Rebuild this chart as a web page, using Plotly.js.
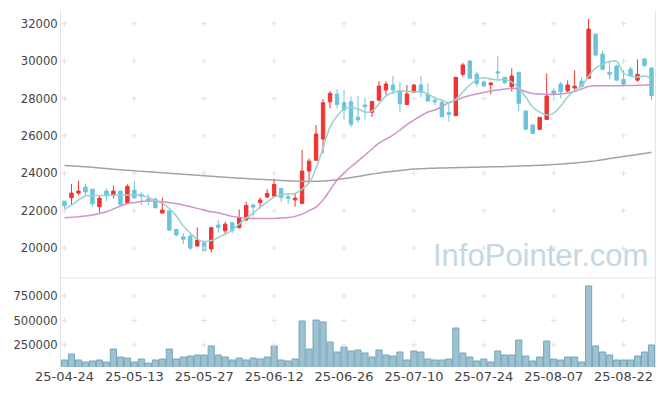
<!DOCTYPE html>
<html><head><meta charset="utf-8">
<script src="https://cdn.plot.ly/plotly-3.0.1.min.js"></script>
<style>html,body{margin:0;padding:0;background:#fff}#chart{width:665px;height:396px}</style>
</head><body><div id="chart"></div>
<script>
const dates = ["25-04-24","25-04-25","25-04-28","25-04-29","25-04-30","25-05-02","25-05-07","25-05-08","25-05-09","25-05-12",
"25-05-13","25-05-14","25-05-15","25-05-16","25-05-19","25-05-20","25-05-21","25-05-22","25-05-23","25-05-26",
"25-05-27","25-05-28","25-05-29","25-05-30","25-06-02","25-06-04","25-06-05","25-06-09","25-06-10","25-06-11",
"25-06-12","25-06-13","25-06-16","25-06-17","25-06-18","25-06-19","25-06-20","25-06-23","25-06-24","25-06-25",
"25-06-26","25-06-27","25-06-30","25-07-01","25-07-02","25-07-03","25-07-04","25-07-07","25-07-08","25-07-09",
"25-07-10","25-07-11","25-07-14","25-07-15","25-07-16","25-07-17","25-07-18","25-07-21","25-07-22","25-07-23",
"25-07-24","25-07-25","25-07-28","25-07-29","25-07-30","25-07-31","25-08-01","25-08-04","25-08-05","25-08-06",
"25-08-07","25-08-08","25-08-11","25-08-12","25-08-13","25-08-14","25-08-18","25-08-19","25-08-20","25-08-21",
"25-08-22","25-08-25","25-08-26","25-08-27","25-08-28"];

const openP = [22510,22690,22940,23260,23150,22210,23050,22830,23050,22400,
23100,22870,22620,22620,21870,21990,21000,20600,20640,20110,
20280,19950,21230,20920,21350,21090,21500,22300,22440,22730,
22780,23190,22750,22570,22390,24120,24700,25830,27820,28240,
27770,27820,27000,27650,27260,27910,28450,28720,28400,27680,
28330,28720,28220,27910,27790,27240,27080,29290,30000,29300,
28880,28730,29430,29130,28630,29400,27330,26580,26350,26880,
28400,28770,28410,28560,28930,29080,31440,30370,29400,29730,
29020,29570,28980,30110,29630];
const highP = [22520,23420,23600,23420,23160,22780,23190,23350,23060,23410,
23600,22980,22870,22700,22690,22000,21020,20790,20730,21110,
20320,21140,21500,21410,21400,22070,22480,22390,22710,23150,
23710,23230,22930,22890,25240,24800,26580,27970,28400,28490,
28450,28110,28130,28060,27870,28930,28930,29210,28890,28720,
28770,29200,28810,28110,27880,27700,29150,29910,30050,29430,
28950,28880,30270,29150,29610,29400,27330,26600,27000,29340,
28540,28890,28970,29500,29140,32250,31480,30550,29960,29800,
29520,29700,30090,30180,29680];
const lowP = [22030,22300,22830,22780,22210,21890,22510,22660,22300,22370,
22620,22300,22300,22120,21870,20910,20640,20210,19900,20070,
19820,19770,20820,20700,20790,21050,21460,21670,22120,22670,
22750,22480,22350,22210,22350,23460,24650,25060,27470,27470,
26880,26460,26700,26880,27020,27840,28180,28220,27290,27650,
28300,28080,27840,27650,27000,26770,27050,29160,29050,28630,
28600,28220,28950,28800,28370,27330,26300,26100,26330,26850,
27860,28010,28330,28450,28600,29050,30270,29500,29020,28950,
28630,29150,28890,29700,27910];
const closeP = [22260,22940,23050,23000,22370,22670,22830,23050,22340,23300,
22690,22770,22570,22160,22030,20960,20700,20470,20000,20430,
19860,21090,21110,21280,20930,21620,22280,22190,22570,22920,
23400,22710,22660,22670,24120,24650,26100,27770,28270,27680,
27380,26620,26860,27560,27840,28660,28770,28450,27720,28240,
28720,28340,27860,27820,27020,27150,29130,29790,29080,28810,
28680,28820,29360,28840,29200,27740,26360,26130,26990,28130,
28250,28360,28720,28660,28630,31710,30320,29560,29300,28980,
28770,29200,29290,29750,28160];

const ma5 = [22086,22300,22567,22781,22808,22808,22808,22834,22834,22834,
22850,22808,22727,22530,22407,22112,21711,21177,20802,20481,
20348,20401,20562,20749,20963,21284,21604,21872,22193,22460,
22727,22834,22888,22915,23155,23476,24278,25348,26471,27059,
27434,27514,27434,27273,27327,27701,28129,28316,28396,28396,
28343,28370,28236,28022,27915,27755,27969,28343,28717,29011,
29108,29038,28985,29011,28878,28557,28075,27541,27273,27113,
27220,27594,28075,28450,28664,29199,29626,29840,29974,30001,
29359,29198,29145,29198,29065];
const ma20 = [21620,21642,21674,21711,21765,21845,21941,22086,22246,22380,
22433,22487,22514,22514,22476,22433,22380,22300,22219,22123,
22032,21941,21888,21792,21695,21642,21604,21588,21588,21588,
21588,21604,21631,21695,21818,22006,22193,22567,23102,23637,
24011,24348,24653,24974,25295,25615,25829,26043,26311,26605,
26845,27075,27273,27380,27567,27781,27915,28049,28156,28236,
28316,28396,28450,28503,28541,28503,28370,28263,28236,28220,
28220,28236,28289,28370,28503,28637,28680,28680,28680,28680,
28690,28690,28701,28717,28733];
const ma120 = [24412,24391,24369,24343,24316,24284,24252,24214,24182,24155,
24129,24102,24081,24054,24027,24000,23974,23947,23920,23893,
23867,23840,23813,23786,23760,23738,23717,23695,23679,23658,
23637,23615,23594,23578,23567,23562,23567,23583,23610,23658,
23717,23770,23824,23893,23958,24011,24064,24107,24145,24187,
24225,24246,24262,24273,24278,24289,24300,24310,24316,24327,
24332,24343,24348,24359,24369,24385,24396,24412,24423,24444,
24466,24492,24519,24551,24583,24626,24663,24722,24786,24840,
24893,24947,25000,25059,25118];
const volume = [96900,158000,97000,76500,86700,97000,76500,209000,127500,117000,
76500,107000,66000,97000,107000,209000,107000,127500,137800,148000,
148000,240000,148000,127500,97000,117000,97000,117000,107000,127500,
240000,97000,86700,107000,495000,209000,505000,485000,280600,178600,
229600,188800,199000,168400,127500,199000,148000,137800,178600,97000,
188800,178600,107000,97000,97000,107000,423500,168400,127500,86700,
107000,76500,188800,148000,148000,301000,137800,86700,127500,290800,
107000,97000,127500,127500,76500,852000,240000,178600,148000,97000,
97000,97000,137800,178600,250000];

const priceTicks = [20000,22000,24000,26000,28000,30000,32000];
const volTicks = [250000,500000,750000];
const dateTickIdx = [0,10,20,30,40,50,60,70,80];
const watermark = "InfoPointer.com";

const tickDates = dateTickIdx.map(i => dates[i]);
const gx = [], gy = [], vx = [], vy = [];
tickDates.forEach(d => { priceTicks.forEach(p => { gx.push(d); gy.push(p); }); volTicks.forEach(v => { vx.push(d); vy.push(v); }); });

const crossMarker = {symbol:'cross-thin', size:4, line:{width:1, color:'#e2e2e2'}, color:'#e2e2e2'};
const traces = [
  {type:'candlestick', x:dates, open:openP, high:highP, low:lowP, close:closeP, xaxis:'x', yaxis:'y',
   increasing:{line:{color:'#ee3434', width:1}, fillcolor:'#ee3434'},
   decreasing:{line:{color:'#6cc3da', width:1}, fillcolor:'#6cc3da'},
   whiskerwidth:0, showlegend:false, hoverinfo:'skip'},
  {type:'scatter', mode:'markers', x:gx, y:gy, marker:crossMarker, hoverinfo:'skip', showlegend:false, xaxis:'x', yaxis:'y'},
  {type:'scatter', mode:'markers', x:vx, y:vy, marker:crossMarker, hoverinfo:'skip', showlegend:false, xaxis:'x', yaxis:'y2'},
  {type:'scatter', mode:'lines', x:dates, y:ma120, line:{color:'#a3a3a3', width:1.5, shape:'spline'}, showlegend:false, hoverinfo:'skip'},
  {type:'scatter', mode:'lines', x:dates, y:ma20, line:{color:'#cf95cb', width:1.5, shape:'spline'}, showlegend:false, hoverinfo:'skip'},
  {type:'scatter', mode:'lines', x:dates, y:ma5, line:{color:'#98d2ca', width:1.5, shape:'spline'}, showlegend:false, hoverinfo:'skip'},
  {type:'bar', x:dates, y:volume, xaxis:'x', yaxis:'y2', marker:{color:'#9cc1d1', line:{color:'#78a6ba', width:1}},
   showlegend:false, hoverinfo:'skip'}
];

const layout = {
  width:665, height:396,
  margin:{l:61, r:10, t:10, b:29},
  paper_bgcolor:'#ffffff', plot_bgcolor:'#ffffff',
  font:{family:'"DejaVu Sans", Verdana, sans-serif', color:'#444', size:12},
  showlegend:false,
  bargap:0.12,
  xaxis:{type:'category', categoryorder:'array', categoryarray:dates, anchor:'y2', range:[-0.5, dates.length-0.5],
    showgrid:false, zeroline:false,
    tickmode:'array', tickvals:tickDates, ticktext:tickDates, ticks:'', tickfont:{size:13, color:'#444'},
    showline:false, rangeslider:{visible:false}, fixedrange:true},
  yaxis:{domain:[0.2493,1], range:[18400,32730], showgrid:false, zeroline:false, tickmode:'array', tickvals:priceTicks,
    ticktext:priceTicks.map(String), ticks:'', tickfont:{size:11.6, color:'#444'}, showline:true, linecolor:'#e4e4e4', linewidth:1, mirror:true},
  yaxis2:{domain:[0,0.2493], range:[25500,933700], showgrid:false, zeroline:false, tickmode:'array', tickvals:volTicks,
    ticktext:volTicks.map(String), ticks:'', tickfont:{size:11.6, color:'#444'}, showline:true, linecolor:'#e4e4e4', linewidth:1, mirror:true},
  shapes:[{type:'line', xref:'paper', yref:'paper', x0:0, x1:1, y0:0.2493, y1:0.2493, line:{color:'#e4e4e4', width:1}}],
  annotations:[{text:watermark, xref:'paper', yref:'paper', x:0.807, y:0.311, xanchor:'center', yanchor:'middle', showarrow:false,
    font:{family:'"Liberation Sans", Arial, sans-serif', size:31, color:'#c6d7e2'}}]
};

Plotly.newPlot('chart', traces, layout, {staticPlot:true, displayModeBar:false});
</script></body></html>
